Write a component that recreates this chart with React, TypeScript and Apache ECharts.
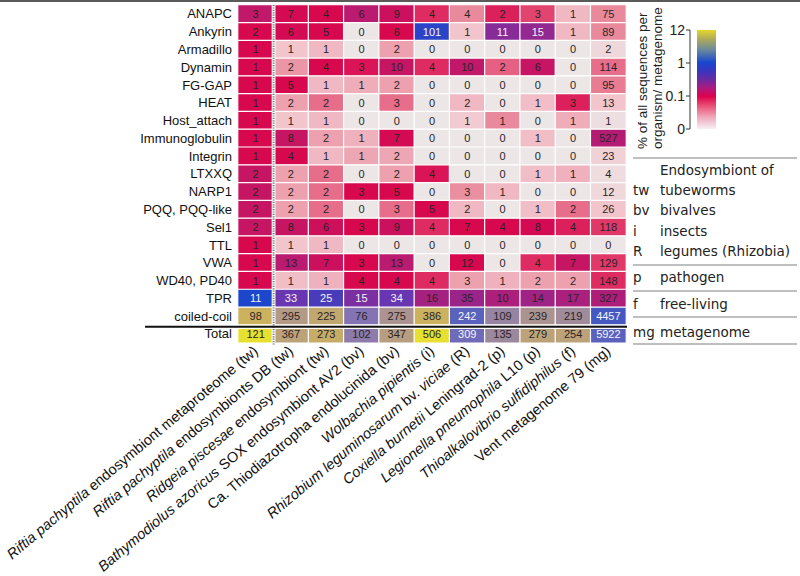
import React, { useEffect, useRef } from "react";
import * as echarts from "echarts";

// ---------- data ----------
const domains = [
  "ANAPC", "Ankyrin", "Armadillo", "Dynamin", "FG-GAP", "HEAT", "Host_attach",
  "Immunoglobulin", "Integrin", "LTXXQ", "NARP1", "PQQ, PQQ-like", "Sel1", "TTL",
  "VWA", "WD40, PD40", "TPR", "coiled-coil", "Total",
];

const organisms = [
  "Riftia pachyptila endosymbiont metaproteome (tw)",
  "Riftia pachyptila endosymbionts DB (tw)",
  "Ridgeia piscesae endosymbiont (tw)",
  "Bathymodiolus azoricus SOX endosymbiont AV2 (bv)",
  "Ca. Thiodiazotropha endolucinida (bv)",
  "Wolbachia pipientis (i)",
  "Rhizobium leguminosarum bv. viciae (R)",
  "Coxiella burnetii Leningrad-2 (p)",
  "Legionella pneumophila L10 (p)",
  "Thioalkalovibrio sulfidiphilus (f)",
  "Vent metagenome 79 (mg)",
];

const italicParts = [
  ["Riftia pachyptila"], ["Riftia pachyptila"], ["Ridgeia piscesae"],
  ["Bathymodiolus azoricus"], [], ["Wolbachia pipientis"],
  ["Rhizobium leguminosarum", "viciae"], ["Coxiella burnetii"],
  ["Legionella pneumophila"], ["Thioalkalovibrio sulfidiphilus"], [],
];

// number of sequences per domain (rows) and organism (columns)
const counts = [
  [3, 7, 4, 6, 9, 4, 4, 2, 3, 1, 75],
  [2, 6, 5, 0, 6, 101, 1, 11, 15, 1, 89],
  [1, 1, 1, 0, 2, 0, 0, 0, 0, 0, 2],
  [1, 2, 4, 3, 10, 4, 10, 2, 6, 0, 114],
  [1, 5, 1, 1, 2, 0, 0, 0, 0, 0, 95],
  [1, 2, 2, 0, 3, 0, 2, 0, 1, 3, 13],
  [1, 1, 1, 0, 0, 0, 1, 1, 0, 1, 1],
  [1, 8, 2, 1, 7, 0, 0, 0, 1, 0, 527],
  [1, 4, 1, 1, 2, 0, 0, 0, 0, 0, 23],
  [2, 2, 2, 0, 2, 4, 0, 0, 1, 1, 4],
  [2, 2, 2, 3, 5, 0, 3, 1, 0, 0, 12],
  [2, 2, 2, 0, 3, 5, 2, 0, 1, 2, 26],
  [2, 8, 6, 3, 9, 4, 7, 4, 8, 4, 118],
  [1, 1, 1, 0, 0, 0, 0, 0, 0, 0, 0],
  [1, 13, 7, 3, 13, 0, 12, 0, 4, 7, 129],
  [1, 1, 1, 4, 4, 4, 3, 1, 2, 2, 148],
  [11, 33, 25, 15, 34, 16, 35, 10, 14, 17, 327],
  [98, 295, 225, 76, 275, 386, 242, 109, 239, 219, 4457],
  [121, 367, 273, 102, 347, 506, 309, 135, 279, 254, 5922],
];

// estimated % of all sequences per organism / metagenome (cell colour)
const percents = [
  [0.18, 0.11, 0.10, 0.20, 0.14, 0.085, 0.05, 0.09, 0.075, 0.03, 0.05],
  [0.10, 0.11, 0.10, 0, 0.10, 0.89, 0.025, 0.40, 0.355, 0.03, 0.05],
  [0.10, 0.025, 0.03, 0, 0.04, 0, 0, 0, 0, 0, 0.01],
  [0.10, 0.045, 0.10, 0.095, 0.16, 0.085, 0.18, 0.065, 0.16, 0, 0.06],
  [0.10, 0.10, 0.03, 0.035, 0.04, 0, 0, 0, 0, 0, 0.055],
  [0.10, 0.04, 0.06, 0, 0.06, 0, 0.03, 0, 0.028, 0.09, 0.025],
  [0.10, 0.025, 0.03, 0, 0, 0, 0.02, 0.05, 0, 0.035, 0.005],
  [0.10, 0.16, 0.04, 0.033, 0.11, 0, 0, 0, 0.028, 0, 0.22],
  [0.10, 0.10, 0.03, 0.038, 0.038, 0, 0, 0, 0, 0, 0.015],
  [0.16, 0.04, 0.06, 0, 0.04, 0.095, 0, 0, 0.028, 0.033, 0.007],
  [0.16, 0.04, 0.06, 0.10, 0.10, 0, 0.048, 0.03, 0, 0, 0.01],
  [0.16, 0.04, 0.06, 0, 0.06, 0.10, 0.03, 0, 0.028, 0.06, 0.025],
  [0.16, 0.16, 0.13, 0.10, 0.14, 0.085, 0.10, 0.10, 0.11, 0.09, 0.08],
  [0.10, 0.025, 0.03, 0, 0, 0, 0, 0, 0, 0, 0],
  [0.10, 0.20, 0.14, 0.10, 0.20, 0, 0.10, 0, 0.085, 0.16, 0.08],
  [0.10, 0.028, 0.033, 0.10, 0.10, 0.085, 0.04, 0.033, 0.04, 0.04, 0.085],
  [1.0, 0.56, 0.71, 0.45, 0.56, 0.28, 0.32, 0.25, 0.30, 0.26, 0.24],
  [6.5, 3.5, 5.0, 1.86, 3.1, 6.5, 1.45, 2.4, 3.1, 2.7, 1.28],
  [12, 4.4, 5.7, 2.1, 3.9, 12, 1.64, 2.57, 4.4, 4.4, 1.45],
];

const colorbarTicks = ["0", "0.1", "1", "12"];

const legendRows = [
  { abbr: "", text: "Endosymbiont of" },
  { abbr: "tw", text: "tubeworms" },
  { abbr: "bv", text: "bivalves" },
  { abbr: "i", text: "insects" },
  { abbr: "R", text: "legumes (Rhizobia)" },
  { abbr: "p", text: "pathogen" },
  { abbr: "f", text: "free-living" },
  { abbr: "mg", text: "metagenome" },
];

// ---------- layout / style ----------
const FONT = "Liberation Sans, Arial, Helvetica, sans-serif";
const LFONT = "DejaVu Sans, Verdana, sans-serif";
const GL = 238, GT = 5, GW = 388, GH = 340;
const colW = GW / organisms.length;
const rowH = GH / domains.length;

// position on the colour bar: 0 -> 0, 0.1 -> 1, 1 -> 2, 12 -> 3
function scalePos(v: number): number {
  if (v <= 0) return 0;
  if (v <= 0.1) return v / 0.1;
  if (v <= 1) return 1 + Math.log10(v / 0.1);
  return 2 + Math.log10(v) / Math.log10(12);
}

const cellColors = [
  "#ece6e6", "#f2c4cc", "#e98a9c", "#e24470", "#d8084f", "#c21868",
  "#9c2488", "#6836b0", "#1c46cc", "#8474b4", "#b29a88", "#ccb060", "#e8e030",
];

export default function App() {
  const ref = useRef<HTMLDivElement>(null);
  useEffect(() => {
    if (!ref.current) return;
    const chart = echarts.init(ref.current, null, { renderer: "svg" });

    const data: any[] = [];
    domains.forEach((_, r) => {
      organisms.forEach((__, c) => {
        const p = scalePos(percents[r][c]);
        const white = p >= 1.55 && p <= 2.21;
        data.push({
          value: [c, r, p, counts[r][c]],
          label: { color: white ? "#f4f4f8" : "#2b2426" },
        });
      });
    });

    const cbX = 697, cbTop = 30, cbH = 99, cbW = 19;
    const graphic: any[] = [
      { type: "rect", shape: { x: 0, y: 0, width: 800, height: 2 }, style: { fill: "#5a5a5a" } },
      // gap + dotted separator after first column
      { type: "rect", shape: { x: GL + colW - 1.6, y: GT, width: 3.8, height: GH }, style: { fill: "#ffffff" }, z: 10 },
      { type: "line", shape: { x1: GL + colW + 0.3, y1: GT, x2: GL + colW + 0.3, y2: GT + GH }, style: { stroke: "#7a7a7a", lineWidth: 2, lineDash: [1.2, 1.2] }, z: 11 },
      // gap + line above Total
      { type: "rect", shape: { x: GL, y: GT + 18 * rowH - 1.8, width: GW, height: 3.6 }, style: { fill: "#ffffff" }, z: 10 },
      { type: "line", shape: { x1: 145, y1: GT + 18 * rowH - 0.3, x2: GL + GW + 1, y2: GT + 18 * rowH - 0.3 }, style: { stroke: "#111", lineWidth: 2 }, z: 11 },
      // colour bar
      {
        type: "rect",
        shape: { x: cbX, y: cbTop, width: cbW, height: cbH },
        style: {
          fill: new echarts.graphic.LinearGradient(0, 0, 0, 1, [
            { offset: 0, color: "#e6d62a" },
            { offset: 0.1, color: "#a8a85e" },
            { offset: 0.2, color: "#6a8a9c" },
            { offset: 0.33, color: "#1846d0" },
            { offset: 0.42, color: "#3c34bc" },
            { offset: 0.5, color: "#6a2aa4" },
            { offset: 0.58, color: "#a81c84" },
            { offset: 0.67, color: "#de004c" },
            { offset: 0.77, color: "#ea5478" },
            { offset: 0.88, color: "#f0a8ba" },
            { offset: 1, color: "#f6f0f4" },
          ]),
        },
      },
      { type: "line", shape: { x1: 690, y1: cbTop, x2: 690, y2: cbTop + cbH }, style: { stroke: "#333", lineWidth: 1 } },
      {
        type: "text", x: 650, y: 149, rotation: Math.PI / 2,
        style: { text: "% of all sequences per\norganism/ metagenome", font: `13.5px ${FONT}`, fill: "#222", align: "left", verticalAlign: "middle", lineHeight: 15 },
      },
    ];
    colorbarTicks.forEach((t, i) => {
      const y = cbTop + cbH - (i * cbH) / 3;
      graphic.push({ type: "line", shape: { x1: 686, y1: y, x2: 690, y2: y }, style: { stroke: "#333", lineWidth: 1 } });
      graphic.push({ type: "text", x: 685, y, style: { text: t, font: `14px ${FONT}`, fill: "#222", align: "right", verticalAlign: "middle" } });
    });
    const legendY = [170, 190, 210, 231, 251, 277, 304, 332];
    legendRows.forEach((r, i) => {
      if (r.abbr) graphic.push({ type: "text", x: 633, y: legendY[i], style: { text: r.abbr, font: `13.5px ${LFONT}`, fill: "#222", align: "left", verticalAlign: "middle" } });
      graphic.push({ type: "text", x: 660, y: legendY[i], style: { text: r.text, font: `13.5px ${LFONT}`, fill: "#222", align: "left", verticalAlign: "middle" } });
    });
    [158, 265, 291, 317, 344].forEach((y) => {
      graphic.push({ type: "line", shape: { x1: 633, y1: y, x2: 797, y2: y }, style: { stroke: "#aaaaaa", lineWidth: 1.5 } });
    });

    chart.setOption({
      animation: false,
      grid: { left: GL, top: GT, width: GW, height: GH },
      xAxis: {
        type: "category",
        data: organisms,
        axisLine: { show: false },
        axisTick: { show: false },
        splitArea: { show: false },
        axisLabel: {
          interval: 0,
          rotate: 40,
          margin: 6,
          fontSize: 14.5,
          fontFamily: FONT,
          color: "#111",
          formatter: (val: string, idx: number) => {
            let s = val;
            (italicParts[idx] || []).forEach((p) => {
              s = s.replace(p, `{i|${p}}`);
            });
            return s;
          },
          rich: { i: { fontStyle: "italic", fontSize: 14.5, fontFamily: FONT, color: "#111" } },
        },
      },
      yAxis: {
        type: "category",
        data: domains,
        inverse: true,
        axisLine: { show: false },
        axisTick: { show: false },
        axisLabel: { margin: 6, fontSize: 13, fontFamily: FONT, color: "#111" },
      },
      visualMap: {
        type: "continuous",
        show: false,
        min: 0,
        max: 3,
        dimension: 2,
        inRange: { color: cellColors },
      },
      graphic,
      series: [
        {
          type: "heatmap",
          data,
          itemStyle: { borderColor: "#ffffff", borderWidth: 1.2 },
          label: {
            show: true,
            fontSize: 11,
            fontFamily: FONT,
            formatter: (p: any) => String(p.data.value[3]),
          },
          emphasis: { disabled: true },
        },
      ],
    });
    return () => chart.dispose();
  }, []);
  return (
    <div
      ref={ref}
      style={{ position: "fixed", left: 0, top: 0, width: 800, height: 576, background: "#fff" }}
    />
  );
}
